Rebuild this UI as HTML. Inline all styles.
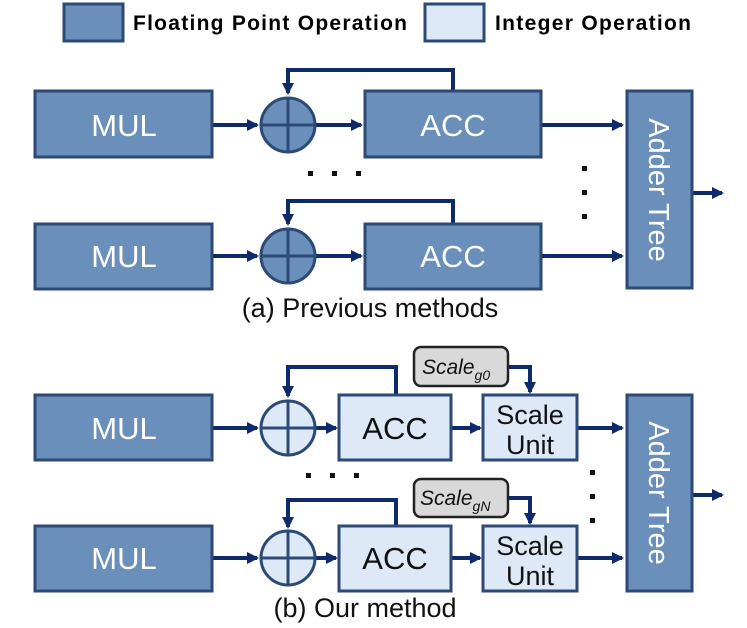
<!DOCTYPE html>
<html><head><style>body{margin:0;background:#fff}svg{display:block}</style></head><body>
<svg width="747" height="628" viewBox="0 0 747 628" xmlns="http://www.w3.org/2000/svg" font-family="Liberation Sans, sans-serif">
<defs>
<marker id="a" markerWidth="12" markerHeight="12" refX="10" refY="6" orient="auto" markerUnits="userSpaceOnUse"><path d="M0,0 L12,6 L0,12 z" fill="#0e2a6b"/></marker>
</defs>
<g stroke="#2c4a75" stroke-width="3">
<rect x="64" y="4" width="59" height="37" fill="#6a8fba"/>
<rect x="425" y="4" width="59" height="37" fill="#dde9f6"/>
</g>
<text x="133" y="30" font-size="21" font-weight="bold" textLength="274">Floating Point Operation</text>
<text x="495" y="30" font-size="21" font-weight="bold" textLength="196">Integer Operation</text>

<g stroke="#0e2a6b" stroke-width="4" fill="none">
<path d="M212 125 H257" marker-end="url(#a)"/><path d="M315 125 H361" marker-end="url(#a)"/>
<path d="M541 125 H622" marker-end="url(#a)"/>
<path d="M453 91 V70 H288 V93" marker-end="url(#a)"/>
<path d="M212 256 H257" marker-end="url(#a)"/><path d="M315 256 H361" marker-end="url(#a)"/>
<path d="M541 256 H622" marker-end="url(#a)"/>
<path d="M453 224 V201 H288 V224" marker-end="url(#a)"/>
<path d="M692 193 H722" marker-end="url(#a)"/>
<path d="M212 428 H257" marker-end="url(#a)"/><path d="M315 428 H336" marker-end="url(#a)"/>
<path d="M451 428 H480" marker-end="url(#a)"/><path d="M577 428 H622" marker-end="url(#a)"/>
<path d="M396 395 V367 H288 V396" marker-end="url(#a)"/>
<path d="M508 367 H530 V392" marker-end="url(#a)"/>
<path d="M212 558 H257" marker-end="url(#a)"/><path d="M315 558 H336" marker-end="url(#a)"/>
<path d="M451 558 H480" marker-end="url(#a)"/><path d="M577 558 H622" marker-end="url(#a)"/>
<path d="M396 526 V500 H288 V527" marker-end="url(#a)"/>
<path d="M508 498 H530 V523" marker-end="url(#a)"/>
<path d="M692 495 H722" marker-end="url(#a)"/>
</g>

<g stroke="#2c4a75" stroke-width="3" fill="#6a8fba">
<rect x="35" y="91" width="177" height="66"/><rect x="365" y="91" width="176" height="66"/>
<rect x="35" y="224" width="177" height="65"/><rect x="365" y="224" width="176" height="65"/>
<rect x="627" y="91" width="65" height="197"/>
<ellipse cx="288" cy="125" rx="27" ry="27"/><ellipse cx="288" cy="256" rx="27" ry="27"/>
<rect x="35" y="395" width="177" height="65"/><rect x="35" y="526" width="177" height="65"/>
<rect x="627" y="395" width="65" height="196"/>
</g>
<g stroke="#2c4a75" stroke-width="3" fill="#dde9f6">
<ellipse cx="288" cy="428" rx="27" ry="27"/><ellipse cx="288" cy="558" rx="27" ry="27"/>
<rect x="339" y="395" width="112" height="65"/><rect x="339" y="526" width="112" height="65"/>
<rect x="483" y="395" width="94" height="65"/><rect x="483" y="526" width="94" height="65"/>
</g>
<g stroke="#2c4a75" stroke-width="3">
<path d="M261 125 H315 M288 98 V152 M261 256 H315 M288 229 V283 M261 428 H315 M288 401 V455 M261 558 H315 M288 531 V585"/>
</g>
<g stroke="#222" stroke-width="2.5" fill="#d9d9d9">
<rect x="414" y="347" width="94" height="39" rx="7"/><rect x="414" y="479" width="94" height="38" rx="7"/>
</g>
<g font-size="21" font-style="italic" fill="#111">
<text x="422" y="374">Scale<tspan font-size="14" dy="6">g0</tspan></text>
<text x="420" y="505">Scale<tspan font-size="14" dy="6">gN</tspan></text>
</g>
<g fill="#111">
<rect x="308" y="171" width="5" height="5"/><rect x="332" y="171" width="5" height="5"/><rect x="356" y="171" width="5" height="5"/>
<rect x="582" y="166" width="5" height="5"/><rect x="582" y="190" width="5" height="5"/><rect x="582" y="214" width="5" height="5"/>
<rect x="306" y="473" width="5" height="5"/><rect x="330" y="473" width="5" height="5"/><rect x="354" y="473" width="5" height="5"/>
<rect x="590" y="470" width="5" height="5"/><rect x="590" y="494" width="5" height="5"/><rect x="590" y="518" width="5" height="5"/>
</g>
<g fill="#fff" font-size="31" text-anchor="middle">
<text x="124" y="136">MUL</text><text x="453" y="136">ACC</text>
<text x="124" y="267">MUL</text><text x="453" y="267">ACC</text>
<text x="124" y="439">MUL</text><text x="124" y="569">MUL</text>
<text transform="translate(649,190) rotate(90)" font-size="29">Adder Tree</text>
<text transform="translate(649,493) rotate(90)" font-size="29">Adder Tree</text>
</g>
<g fill="#111" font-size="31" text-anchor="middle">
<text x="395" y="439">ACC</text><text x="395" y="569">ACC</text>
</g>
<g fill="#111" font-size="27" text-anchor="middle">
<text x="530" y="424">Scale</text><text x="530" y="454">Unit</text>
<text x="530" y="555">Scale</text><text x="530" y="585">Unit</text>
</g>
<text x="370" y="317" font-size="27" text-anchor="middle" fill="#111">(a) Previous methods</text>
<text x="365" y="617" font-size="27" text-anchor="middle" fill="#111">(b) Our method</text>
</svg>
</body></html>
